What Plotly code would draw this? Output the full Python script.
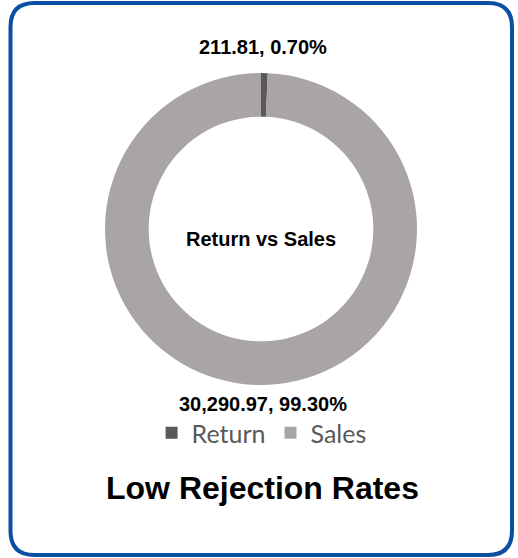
import plotly.graph_objects as go

W, H = 518, 558

# data
labels = ['Return', 'Sales']
values = [211.81, 30290.97]
pct_labels = ['0.70%', '99.30%']
colors = ['#595959', '#A8A5A4']

chart_title = 'Low Rejection Rates'
center_text = 'Return vs Sales'

FONT = 'Liberation Sans, Arial'


def px(x, y):
    # pixel -> paper coords (margins are 0)
    return x / W, 1 - y / H


def rounded_rect(x0, y0, x1, y1, r):
    def p(x, y):
        a, b = px(x, y)
        return f'{a:.5f},{b:.5f}'
    pts = [
        'M' + p(x0 + r, y0),
        'L' + p(x1 - r, y0),
        'Q' + p(x1, y0) + ' ' + p(x1, y0 + r),
        'L' + p(x1, y1 - r),
        'Q' + p(x1, y1) + ' ' + p(x1 - r, y1),
        'L' + p(x0 + r, y1),
        'Q' + p(x0, y1) + ' ' + p(x0, y1 - r),
        'L' + p(x0, y0 + r),
        'Q' + p(x0, y0) + ' ' + p(x0 + r, y0),
    ]
    return ' '.join(pts) + ' Z'


fig = go.Figure()

fig.add_trace(go.Pie(
    labels=labels,
    values=values,
    hole=0.72,
    sort=False,
    direction='clockwise',
    rotation=0,
    marker=dict(colors=colors, line=dict(width=0)),
    textinfo='none',
    domain=dict(x=[105 / W, 417 / W], y=[1 - 385 / H, 1 - 73 / H]),
    showlegend=True,
))

# data labels (top for the small slice, bottom for the big one)
label_pos = [(263, 47), (263, 404)]
for v, pct, (lx, ly) in zip(values, pct_labels, label_pos):
    x, y = px(lx, ly)
    fig.add_annotation(
        text=f'{v:,.2f}, {pct}', x=x, y=y, xref='paper', yref='paper',
        xanchor='center', yanchor='middle', showarrow=False,
        font=dict(family=FONT, size=20, color='black', weight='bold'),
    )

fig.add_annotation(
    text=center_text, x=261 / W, y=1 - 239 / H, xref='paper', yref='paper',
    xanchor='center', yanchor='middle', showarrow=False,
    font=dict(family=FONT, size=20, color='black', weight='bold'),
)
fig.add_annotation(
    text=chart_title, x=262 / W, y=1 - 488 / H, xref='paper', yref='paper',
    xanchor='center', yanchor='middle', showarrow=False,
    font=dict(family=FONT, size=32, color='black', weight='bold'),
)

fig.add_shape(
    type='path', xref='paper', yref='paper',
    path=rounded_rect(10.5, 3, 512, 555, 24),
    line=dict(color='#0B4FA3', width=4),
)

fig.update_layout(
    width=W, height=H,
    margin=dict(l=0, r=0, t=0, b=0),
    paper_bgcolor='white',
    plot_bgcolor='white',
    legend=dict(
        orientation='h', x=0.505, xanchor='center', y=1 - 433 / H, yanchor='middle',
        font=dict(family='Lato, Open Sans', size=25, color='#595959'),
        itemwidth=30, traceorder='normal',
    ),
)

fig.write_html('out.html', config={'displayModeBar': False},
               post_script="document.body.style.margin='0';")
